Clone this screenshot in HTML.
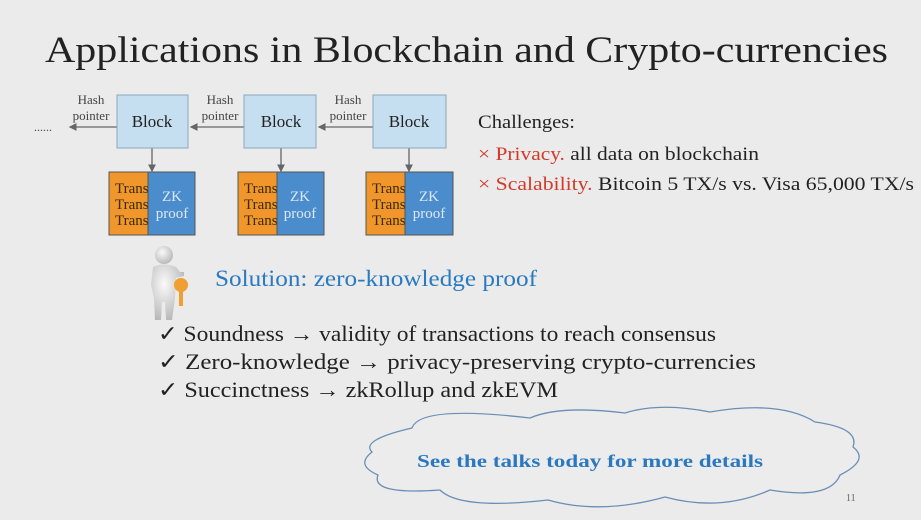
<!DOCTYPE html>
<html><head><meta charset="utf-8"><style>
html,body{margin:0;padding:0;background:#ebebeb;}
svg{display:block;}
.s{font-family:"Liberation Serif",serif;}
</style></head><body>
<svg width="921" height="520" viewBox="0 0 921 520" xmlns="http://www.w3.org/2000/svg">
<defs>
<marker id="a" markerWidth="6" markerHeight="6" refX="5" refY="3" orient="auto"><path d="M0,0 L6,3 L0,6 z" fill="#666"/></marker>
<radialGradient id="g" cx="0.4" cy="0.35" r="0.7"><stop offset="0" stop-color="#fafafa"/><stop offset="1" stop-color="#b5b5b5"/></radialGradient>
</defs>
<rect width="921" height="520" fill="#ebebeb"/>
<text x="45" y="62" class="s" font-size="37" fill="#222" textLength="843" lengthAdjust="spacingAndGlyphs">Applications in Blockchain and Crypto-currencies</text>

<!-- chain -->
<text x="34" y="131" class="s" font-size="12" fill="#444">......</text>
<g stroke="#666" stroke-width="1.3" fill="none">
<line x1="117" y1="127" x2="70" y2="127" marker-end="url(#a)"/>
<line x1="244" y1="127" x2="191" y2="127" marker-end="url(#a)"/>
<line x1="373" y1="127" x2="319" y2="127" marker-end="url(#a)"/>
<line x1="152" y1="148" x2="152" y2="171" marker-end="url(#a)"/>
<line x1="281" y1="148" x2="281" y2="171" marker-end="url(#a)"/>
<line x1="409" y1="148" x2="409" y2="171" marker-end="url(#a)"/>
</g>
<g class="s" font-size="13" fill="#444" text-anchor="middle">
<text x="91" y="104">Hash</text><text x="91" y="120">pointer</text>
<text x="220" y="104">Hash</text><text x="220" y="120">pointer</text>
<text x="348" y="104">Hash</text><text x="348" y="120">pointer</text>
</g>
<g fill="#c5dff0" stroke="#8aa7bd" stroke-width="1">
<rect x="117" y="95" width="71" height="53"/>
<rect x="244" y="95" width="72" height="53"/>
<rect x="373" y="95" width="73" height="53"/>
</g>
<g class="s" font-size="17" fill="#222" text-anchor="middle">
<text x="152" y="127">Block</text><text x="281" y="127">Block</text><text x="409" y="127">Block</text>
</g>
<g>
<rect x="109" y="172" width="40" height="63" fill="#f0962a" stroke="#555"/>
<rect x="238" y="172" width="40" height="63" fill="#f0962a" stroke="#555"/>
<rect x="366" y="172" width="40" height="63" fill="#f0962a" stroke="#555"/>
</g>
<g class="s" font-size="15" fill="#3a2a10">
<text x="115" y="193">Trans</text><text x="115" y="209">Trans</text><text x="115" y="225">Trans</text>
<text x="244" y="193">Trans</text><text x="244" y="209">Trans</text><text x="244" y="225">Trans</text>
<text x="372" y="193">Trans</text><text x="372" y="209">Trans</text><text x="372" y="225">Trans</text>
</g>
<g fill="#4b8ccc" stroke="#555">
<rect x="148" y="172" width="47" height="63"/>
<rect x="277" y="172" width="47" height="63"/>
<rect x="405" y="172" width="48" height="63"/>
</g>
<g class="s" font-size="15" fill="#dde8f5" text-anchor="middle">
<text x="172" y="201">ZK</text><text x="172" y="218">proof</text>
<text x="300" y="201">ZK</text><text x="300" y="218">proof</text>
<text x="429" y="201">ZK</text><text x="429" y="218">proof</text>
</g>

<!-- challenges -->
<g class="s" font-size="19" fill="#222">
<text x="478" y="128" textLength="97" lengthAdjust="spacingAndGlyphs">Challenges:</text>
<text x="478" y="160" textLength="281" lengthAdjust="spacingAndGlyphs"><tspan fill="#d23a2a">×  Privacy.</tspan> all data on blockchain</text>
<text x="478" y="190" textLength="436" lengthAdjust="spacingAndGlyphs"><tspan fill="#d23a2a">×  Scalability.</tspan> Bitcoin 5 TX/s  vs.  Visa 65,000 TX/s</text>
</g>

<!-- person -->
<circle cx="164" cy="255" r="9" fill="url(#g)"/>
<path d="M153,267 Q164,262 176,267 L180,272 L184,272 L184,276 L176,278 L175,298 L172,320 L166,320 L165,302 L162,302 L161,320 L155,320 L154,298 L151,285 Z" fill="url(#g)"/>
<circle cx="181" cy="285" r="7" fill="#f0a030"/>
<rect x="179" y="290" width="4" height="16" fill="#f0a030"/>
<text x="215" y="286" class="s" font-size="23" fill="#2a7ac0" textLength="322" lengthAdjust="spacingAndGlyphs">Solution: zero-knowledge proof</text>

<g class="s" font-size="22" fill="#222">
<text x="158" y="341" textLength="558" lengthAdjust="spacingAndGlyphs">✓ Soundness → validity of transactions to reach consensus</text>
<text x="158" y="369" textLength="598" lengthAdjust="spacingAndGlyphs">✓ Zero-knowledge → privacy-preserving crypto-currencies</text>
<text x="158" y="397" textLength="400" lengthAdjust="spacingAndGlyphs">✓ Succinctness → zkRollup and zkEVM</text>
</g>

<!-- cloud -->
<path d="M412,428 Q420,405 530,418 Q560,405 625,413 Q660,402 710,412 Q780,400 815,422 Q860,428 853,447 Q870,460 840,475 Q830,500 770,490 Q720,512 665,497 Q600,515 548,500 Q460,510 440,490 Q370,495 378,475 Q355,465 372,452 Q360,440 412,428 Z" fill="#ececec" stroke="#6a8fb5" stroke-width="1.3"/>
<text x="417" y="467" class="s" font-size="18" font-weight="bold" fill="#2a78c0" textLength="346" lengthAdjust="spacingAndGlyphs">See the talks today for more details</text>
<text x="846" y="501" class="s" font-size="10" fill="#666">11</text>
</svg>
</body></html>
